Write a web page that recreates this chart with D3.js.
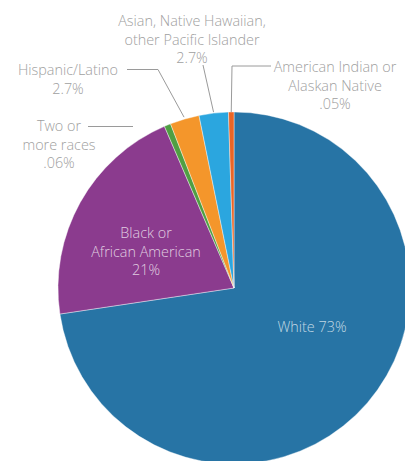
<!DOCTYPE html>
<html>
<head>
<meta charset="utf-8">
<script src="https://cdn.jsdelivr.net/npm/d3@7"></script>
<style>
  html, body { margin: 0; padding: 0; background: #fff; }
  svg { display: block; }
  text { font-family: "Open Sans", sans-serif; font-weight: 300; }
</style>
</head>
<body>
<div id="chart"></div>
<script>
const groups = ["White", "Black or African American", "Two or more races", "Hispanic/Latino",
    "Asian, Native Hawaiian, other Pacific Islander", "American Indian or Alaskan Native"]
const shares = [73, 21, 0.6, 2.7, 2.7, 0.5]
const shareLabels = ["73%", "21%", ".06%", "2.7%", "2.7%", ".05%"]
const colors = ["#2774a5", "#8b3b8e", "#4f9f43", "#f4962b", "#2ba6df", "#ea6526"]

const W = 405, H = 461
const cx = 234, cy = 288, radius = 176

const svg = d3.select("#chart").append("svg")
    .attr("width", W)
    .attr("height", H)

const g = svg.append("g").attr("transform", `translate(${cx},${cy})`)

const pie = d3.pie().sort(null).value(d => d)
const arcs = pie(shares)

const arc = d3.arc().innerRadius(0).outerRadius(radius)

g.selectAll("path.slice")
    .data(arcs)
    .enter()
    .append("path")
    .attr("class", "slice")
    .attr("d", arc)
    .attr("fill", (d, i) => colors[i])
    .attr("stroke", "#fff")
    .attr("stroke-width", 0.4)

// point on the rim of a slice, in page coordinates
const rim = (d, r) => {
    const a = (d.startAngle + d.endAngle) / 2
    return [cx + r * Math.sin(a), cy - r * Math.cos(a)]
}

// inside labels
const inside = [
    { i: 0, x: 312, y: 332, lines: ["White " + shareLabels[0]], fill: "rgba(255,255,255,0.72)" },
    { i: 1, x: 146, y: 238, lines: ["Black or", "African American", shareLabels[1]], fill: "rgba(255,255,255,0.75)" }
]

// outside labels with leader lines (elbow = where the line bends)
const outside = [
    { i: 2, x: 59, y: 131, lines: ["Two or", "more races", shareLabels[2]],
      line: [[88, 126.5], [133, 126.5]] },
    { i: 3, x: 68, y: 75, lines: ["Hispanic/Latino", shareLabels[3]],
      line: [[127, 69.5], [158, 69.5]], r: 178 },
    { i: 4, x: 192, y: 26, lines: ["Asian, Native Hawaiian,", "other Pacific Islander", shareLabels[4]],
      line: [[203, 65]], r: 177 },
    { i: 5, x: 335, y: 72, lines: ["American Indian or", "Alaskan Native", shareLabels[5]],
      line: [[271, 66], [232, 66]], r: 176 }
]

const lineGen = d3.line()

outside.forEach(o => {
    const pts = o.line.slice()
    if (o.r) pts.push(rim(arcs[o.i], o.r))
    svg.append("path")
        .attr("d", lineGen(pts))
        .attr("fill", "none")
        .attr("stroke", "#9a9a9a")
        .attr("stroke-width", 1)
})

const lineH = 18.7

function addLabel(o, fill) {
    const t = svg.append("text")
        .attr("x", o.x)
        .attr("y", o.y)
        .attr("text-anchor", "middle")
        .attr("font-size", 14.4)
        .attr("fill", fill)
    o.lines.forEach((s, k) => {
        t.append("tspan")
            .attr("x", o.x)
            .attr("y", o.y + k * lineH)
            .text(s)
    })
}

outside.forEach(o => addLabel(o, "#a0a0a0"))
inside.forEach(o => addLabel(o, o.fill))
</script>
</body>
</html>
